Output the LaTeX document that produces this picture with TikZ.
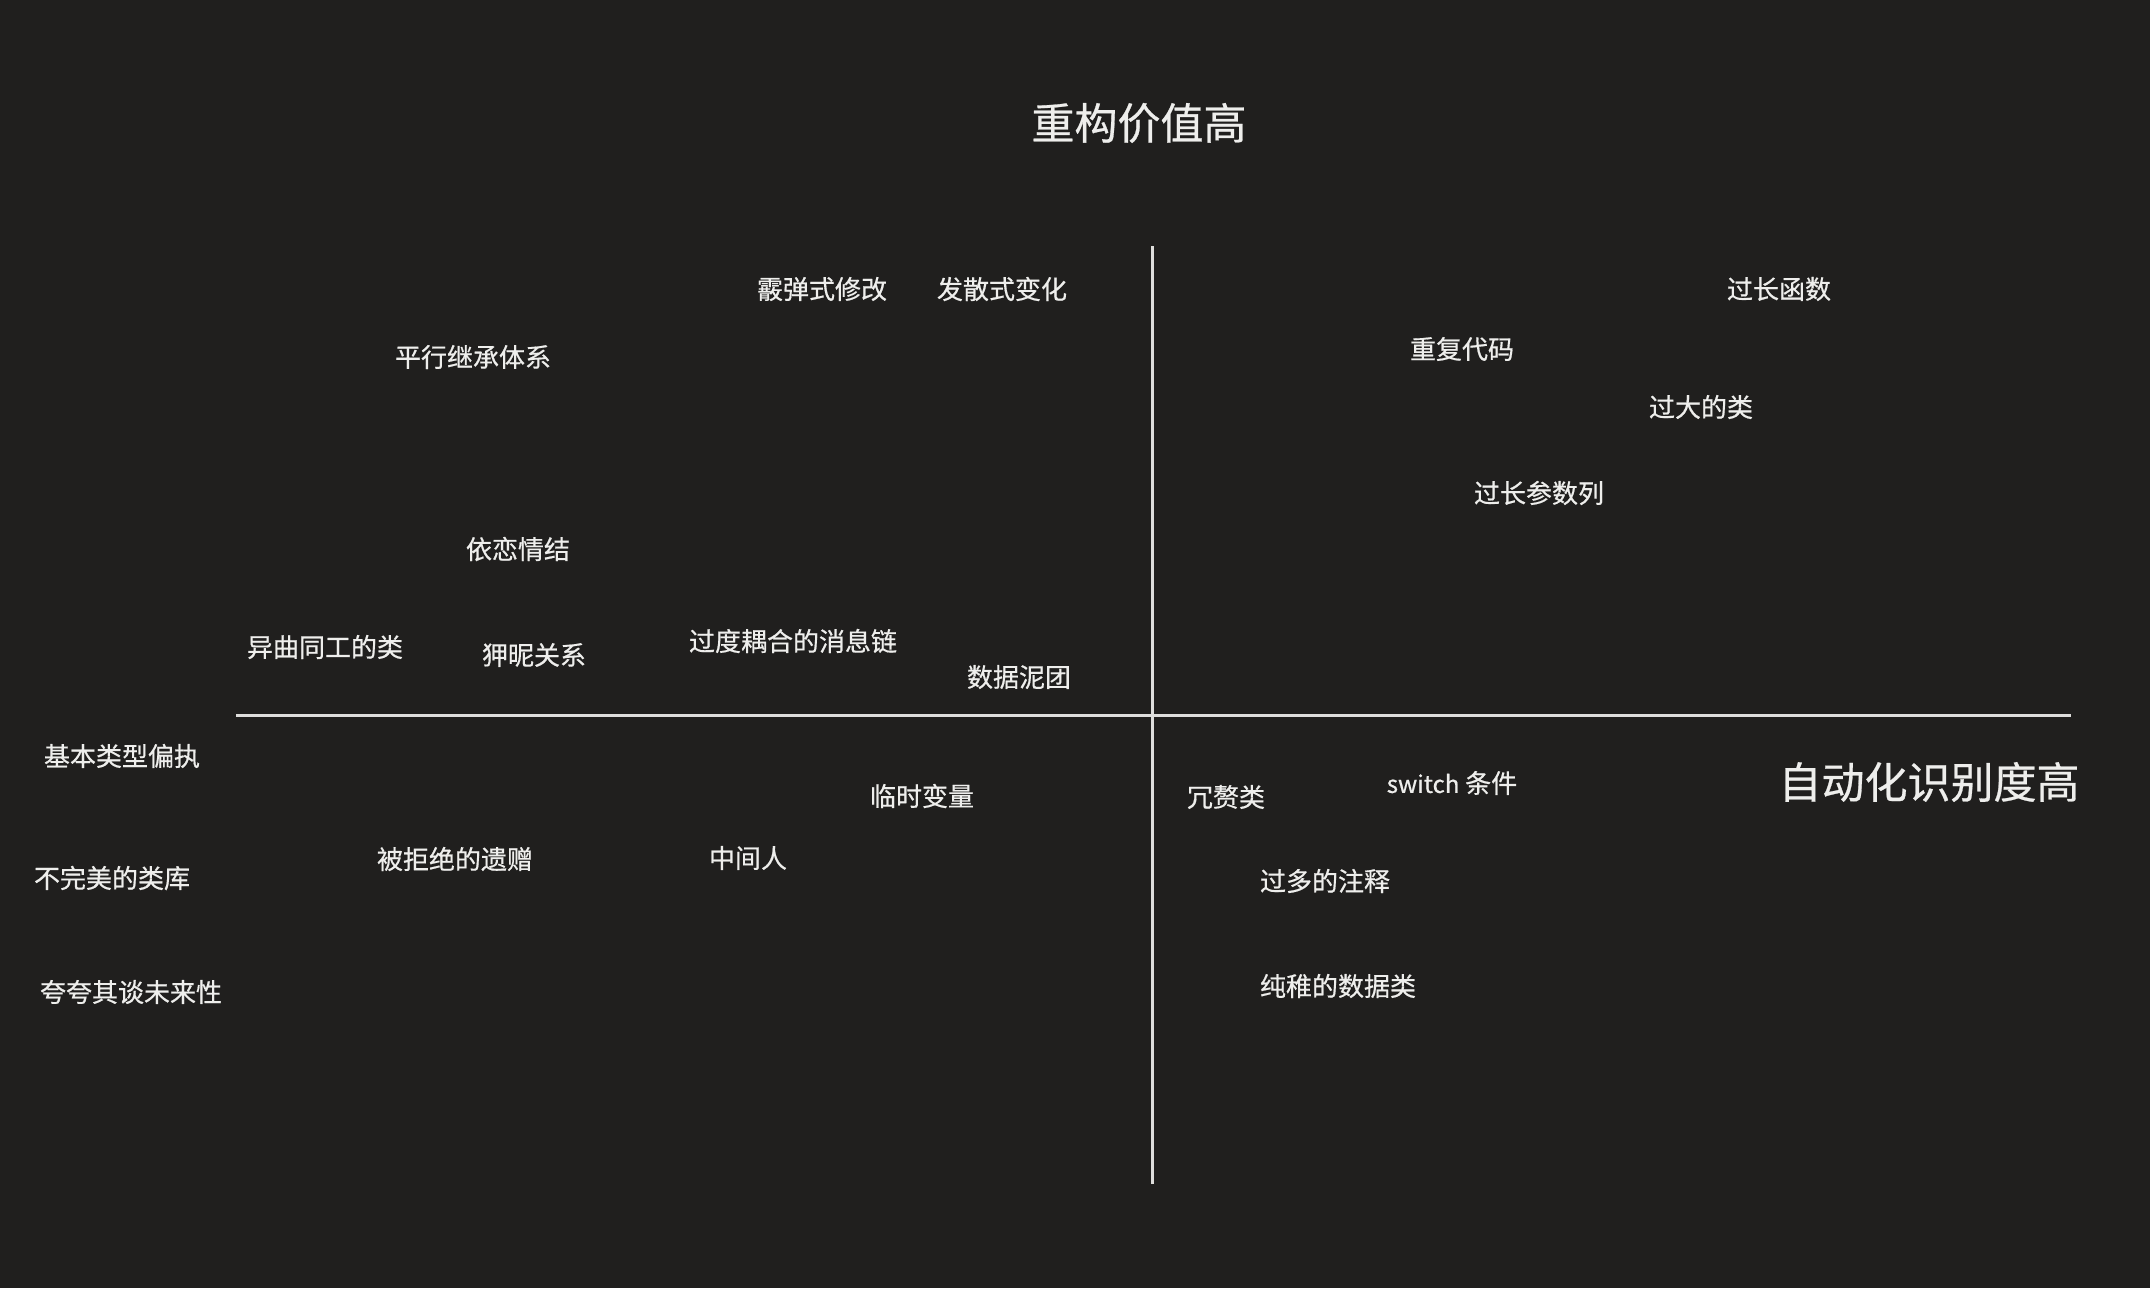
\documentclass[tikz,border=0pt]{standalone}
\usepackage{fontspec}
\setmainfont{Noto Sans CJK SC}
\newfontfamily\medfont[FakeBold=0.6]{Noto Sans CJK SC}
\definecolor{bgc}{RGB}{32,31,30}
\definecolor{fgc}{RGB}{238,238,236}
\definecolor{axc}{RGB}{222,222,220}
\begin{document}
\begin{tikzpicture}[x=1pt,y=-1pt,
  lbl/.style={text=fgc,inner sep=0pt,anchor=center,font=\medfont\fontsize{26}{30}\selectfont},
  biglbl/.style={text=fgc,inner sep=0pt,anchor=center,font=\medfont\fontsize{43}{50}\selectfont},
  axis/.style={draw=axc,line width=3pt}]
\fill[bgc] (0,0) rectangle (2150,1288);
\useasboundingbox (0,0) rectangle (2150,1288);
% axes
\coordinate (vt) at (1152,246);
\coordinate (vb) at (1152,1184);
\coordinate (hl) at (236,715);
\coordinate (hr) at (2071,715);
\draw[axis] (vt) -- (vb);
\draw[axis] (hl) -- (hr);
% titles
\node[biglbl] (ytitle) at (1139,123) {重构价值高};
\node[biglbl] (xtitle) at (1929,782) {自动化识别度高};
% top-left
\node[lbl] (n1) at (822,289) {霰弹式修改};
\node[lbl] (n2) at (1002,289) {发散式变化};
\node[lbl] (n3) at (473,357) {平行继承体系};
\node[lbl] (n4) at (518,549) {依恋情结};
\node[lbl] (n5) at (325,647) {异曲同工的类};
\node[lbl] (n6) at (534,655) {狎昵关系};
\node[lbl] (n7) at (793,641) {过度耦合的消息链};
\node[lbl] (n8) at (1019,677) {数据泥团};
% bottom-left
\node[lbl] (n9) at (122,756) {基本类型偏执};
\node[lbl] (n10) at (922,796) {临时变量};
\node[lbl] (n11) at (455,859) {被拒绝的遗赠};
\node[lbl] (n12) at (748,858) {中间人};
\node[lbl] (n13) at (112,878) {不完美的类库};
\node[lbl] (n14) at (131,992) {夸夸其谈未来性};
% top-right
\node[lbl] (n15) at (1779,289) {过长函数};
\node[lbl] (n16) at (1462,349) {重复代码};
\node[lbl] (n17) at (1701,407) {过大的类};
\node[lbl] (n18) at (1539,493) {过长参数列};
% bottom-right
\node[lbl] (n19) at (1226,797) {冗赘类};
\node[lbl] (n20) at (1452,783) {\fontsize{24}{30}\selectfont switch\fontsize{26}{30}\selectfont\ 条件};
\node[lbl] (n21) at (1325,881) {过多的注释};
\node[lbl] (n22) at (1338,986) {纯稚的数据类};
\end{tikzpicture}
\end{document}
